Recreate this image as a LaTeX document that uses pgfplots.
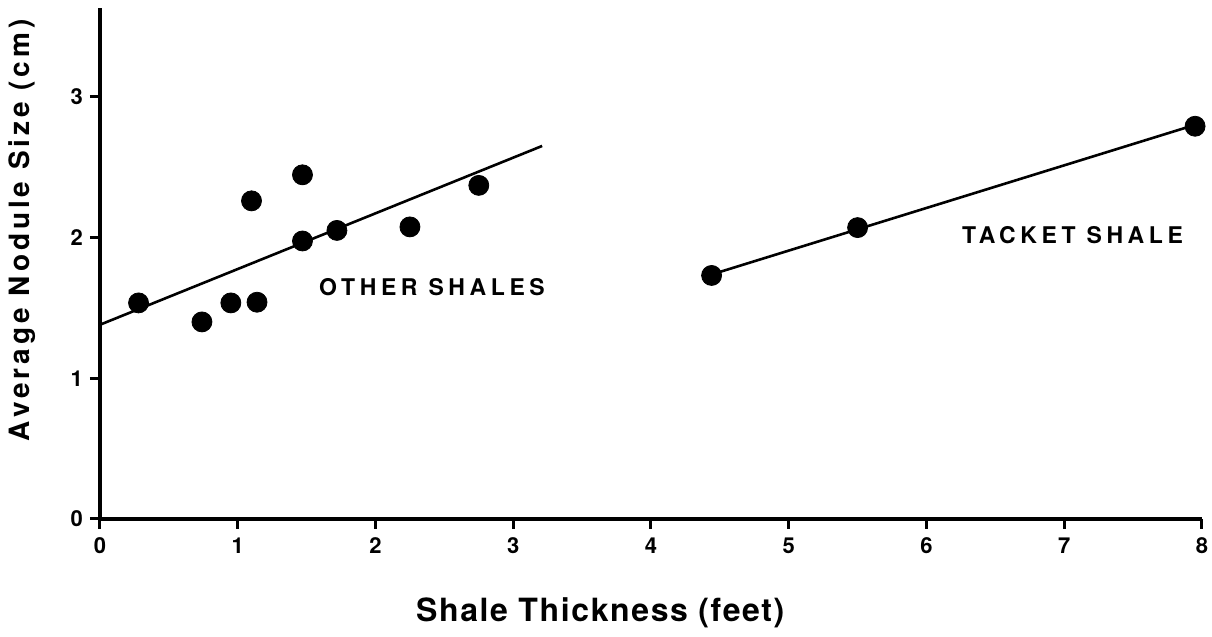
\documentclass[border=0pt]{standalone}
\usepackage{fontspec}
\setmainfont{TeX Gyre Heros}
\usepackage{pgfplots}
\pgfplotsset{compat=1.18}
\begin{document}
\begin{tikzpicture}
\begin{axis}[
  name=ax,
  scale only axis, width=551pt, height=255.5pt,
  xmin=0, xmax=8, ymin=0, ymax=3.63,
  axis x line=bottom, axis y line=left,
  axis line style={line width=1.6pt, -},
  xtick={0,...,8}, ytick={0,1,2,3},
  tick align=outside, major tick length=5pt,
  tick style={line width=1.5pt, black},
  ticklabel style={font=\bfseries\fontsize{11}{11}\selectfont},
  xticklabel style={yshift=-1pt},
  yticklabel style={xshift=0pt},
  /pgf/number format/assume math mode=true,
  xlabel={Shale Thickness (feet)},
  ylabel={Average Nodule Size (cm)},
  xlabel style={font=\bfseries\fontsize{16}{16}\selectfont\addfontfeature{LetterSpace=5}, at={(axis description cs:0.454,-0.184)}, anchor=center},
  ylabel style={font=\bfseries\fontsize{14}{14}\selectfont\addfontfeature{LetterSpace=14}, at={(axis description cs:-0.0708,0.565)}, anchor=center},
  clip=false,
]
\addplot[black, line width=1.3pt] coordinates {(0,1.38) (3.21,2.65)};
\addplot[black, line width=1.3pt] coordinates {(4.45,1.74) (7.95,2.80)};
\addplot[only marks, mark=*, mark size=5pt, black] coordinates {
(0.28,1.535) (0.74,1.40) (0.95,1.535) (1.14,1.54) (1.10,2.26)
(1.47,2.445) (1.47,1.975) (1.72,2.05) (2.25,2.075) (2.75,2.37)
(4.44,1.73) (5.50,2.07) (7.95,2.79)};
\node[font=\bfseries\fontsize{11.5}{11.5}\selectfont\addfontfeature{LetterSpace=20}] at (axis cs:2.41,1.65) {OTHER SHALES};
\node[font=\bfseries\fontsize{11.5}{11.5}\selectfont\addfontfeature{LetterSpace=20}] at (axis cs:7.06,2.02) {TACKET SHALE};
\end{axis}
\pgfresetboundingbox
\path ([shift={(-50pt,-59pt)}]ax.south west) rectangle ([shift={(556pt,259.5pt)}]ax.south west);
\end{tikzpicture}
\end{document}
